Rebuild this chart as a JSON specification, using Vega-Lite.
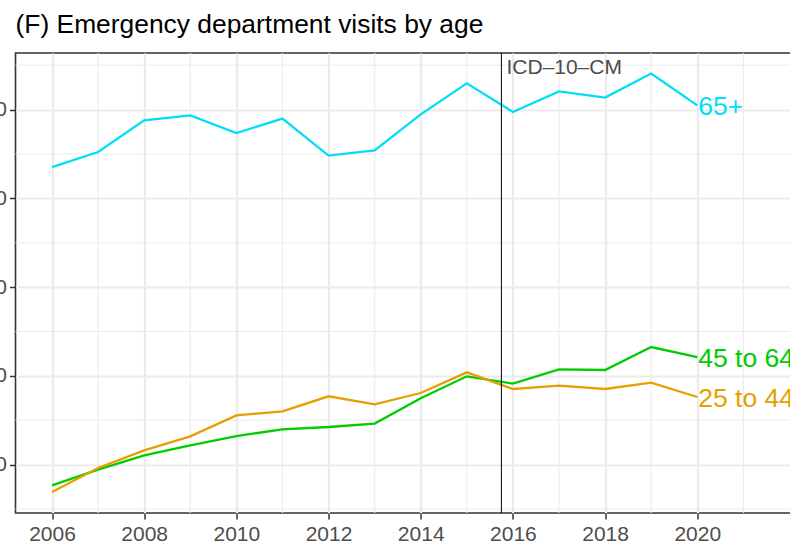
{
  "$schema": "https://vega.github.io/schema/vega-lite/v6.json",
  "autosize": {"type": "none"},
  "width": 797,
  "height": 460,
  "padding": {"left": 15.5, "top": 53, "right": -22.5, "bottom": 31},
  "background": "white",
  "config": {
    "font": "Liberation Sans",
    "view": {"stroke": "#333333", "strokeWidth": 1.6},
    "axis": {
      "domain": false,
      "gridColor": "#EBEBEB",
      "gridWidth": 2.2,
      "tickColor": "#333333",
      "tickWidth": 1.5,
      "tickSize": 6,
      "labelColor": "#4D4D4D",
      "labelFontSize": 21,
      "labelFont": "Liberation Sans",
      "title": null
    }
  },
  "title": {
    "text": "(F) Emergency department visits by age",
    "anchor": "start",
    "frame": "group",
    "fontSize": 26.4,
    "fontWeight": "normal",
    "font": "Liberation Sans",
    "color": "#000000",
    "offset": 14
  },
  "datasets": {
    "visits": [
      {"year": 2006, "group": "65+", "value": 435.3},
      {"year": 2007, "group": "65+", "value": 452.2},
      {"year": 2008, "group": "65+", "value": 487.9},
      {"year": 2009, "group": "65+", "value": 493.6},
      {"year": 2010, "group": "65+", "value": 473.6},
      {"year": 2011, "group": "65+", "value": 489.9},
      {"year": 2012, "group": "65+", "value": 448.2},
      {"year": 2013, "group": "65+", "value": 454.1},
      {"year": 2014, "group": "65+", "value": 494.7},
      {"year": 2015, "group": "65+", "value": 529.6},
      {"year": 2016, "group": "65+", "value": 497.3},
      {"year": 2017, "group": "65+", "value": 520.6},
      {"year": 2018, "group": "65+", "value": 513.5},
      {"year": 2019, "group": "65+", "value": 540.6},
      {"year": 2020, "group": "65+", "value": 504.8},
      {"year": 2006, "group": "45 to 64", "value": 76.7},
      {"year": 2007, "group": "45 to 64", "value": 94.4},
      {"year": 2008, "group": "45 to 64", "value": 110.5},
      {"year": 2009, "group": "45 to 64", "value": 121.7},
      {"year": 2010, "group": "45 to 64", "value": 132.2},
      {"year": 2011, "group": "45 to 64", "value": 139.8},
      {"year": 2012, "group": "45 to 64", "value": 142.4},
      {"year": 2013, "group": "45 to 64", "value": 146.2},
      {"year": 2014, "group": "45 to 64", "value": 174.7},
      {"year": 2015, "group": "45 to 64", "value": 199.5},
      {"year": 2016, "group": "45 to 64", "value": 191.3},
      {"year": 2017, "group": "45 to 64", "value": 207.4},
      {"year": 2018, "group": "45 to 64", "value": 206.6},
      {"year": 2019, "group": "45 to 64", "value": 232.5},
      {"year": 2020, "group": "45 to 64", "value": 221.2},
      {"year": 2006, "group": "25 to 44", "value": 69.1},
      {"year": 2007, "group": "25 to 44", "value": 96.2},
      {"year": 2008, "group": "25 to 44", "value": 116.1},
      {"year": 2009, "group": "25 to 44", "value": 131.9},
      {"year": 2010, "group": "25 to 44", "value": 155.5},
      {"year": 2011, "group": "25 to 44", "value": 160.1},
      {"year": 2012, "group": "25 to 44", "value": 177.0},
      {"year": 2013, "group": "25 to 44", "value": 168.0},
      {"year": 2014, "group": "25 to 44", "value": 180.7},
      {"year": 2015, "group": "25 to 44", "value": 204.0},
      {"year": 2016, "group": "25 to 44", "value": 185.2},
      {"year": 2017, "group": "25 to 44", "value": 189.0},
      {"year": 2018, "group": "25 to 44", "value": 185.2},
      {"year": 2019, "group": "25 to 44", "value": 192.4},
      {"year": 2020, "group": "25 to 44", "value": 176.2}
    ],
    "minorX": [
      {"yr": 2007}, {"yr": 2009}, {"yr": 2011}, {"yr": 2013}, {"yr": 2015},
      {"yr": 2017}, {"yr": 2019}, {"yr": 2021}
    ],
    "minorY": [
      {"v": 50}, {"v": 150}, {"v": 250}, {"v": 350}, {"v": 450}, {"v": 550}
    ],
    "event": [
      {"year": 2015.75, "label": "ICD\u201310\u2013CM", "top": 563.8}
    ]
  },
  "layer": [
    {
      "data": {"name": "minorX"},
      "mark": {"type": "rule", "color": "#EBEBEB", "strokeWidth": 1.1},
      "encoding": {
        "x": {"field": "yr", "type": "quantitative",
              "scale": {"domain": [2005.208, 2022.5], "nice": false, "zero": false},
              "axis": {"values": [2006, 2008, 2010, 2012, 2014, 2016, 2018, 2020], "format": "d", "labelPadding": 4}}
      }
    },
    {
      "data": {"name": "minorY"},
      "mark": {"type": "rule", "color": "#EBEBEB", "strokeWidth": 1.1},
      "encoding": {
        "y": {"field": "v", "type": "quantitative",
              "scale": {"domain": [45.5, 563.8], "nice": false, "zero": false},
              "axis": {"values": [100, 200, 300, 400, 500], "labelPadding": 3}}
      }
    },
    {
      "data": {"name": "visits"},
      "mark": {"type": "line", "strokeWidth": 2.3},
      "encoding": {
        "x": {"field": "year", "type": "quantitative",
              "scale": {"domain": [2005.208, 2022.5], "nice": false, "zero": false},
              "axis": {"values": [2006, 2008, 2010, 2012, 2014, 2016, 2018, 2020], "format": "d", "labelPadding": 4}},
        "y": {"field": "value", "type": "quantitative",
              "scale": {"domain": [45.5, 563.8], "nice": false, "zero": false},
              "axis": {"values": [100, 200, 300, 400, 500], "labelPadding": 3}},
        "color": {"field": "group", "type": "nominal", "legend": null,
                  "scale": {"domain": ["65+", "45 to 64", "25 to 44"], "range": ["#00DEF7", "#00CC00", "#E69F00"]}}
      }
    },
    {
      "data": {"name": "event"},
      "mark": {"type": "rule", "color": "#000000", "strokeWidth": 1},
      "encoding": {
        "x": {"field": "year", "type": "quantitative"}
      }
    },
    {
      "data": {"name": "event"},
      "mark": {"type": "text", "align": "left", "baseline": "top", "dx": 5, "dy": 4, "fontSize": 21, "color": "#4D4D4D"},
      "encoding": {
        "x": {"field": "year", "type": "quantitative"},
        "y": {"field": "top", "type": "quantitative"},
        "text": {"field": "label"}
      }
    },
    {
      "data": {"name": "visits"},
      "transform": [{"filter": "datum.year == 2020"}],
      "mark": {"type": "text", "align": "left", "baseline": "middle", "dx": 1, "dy": 2, "fontSize": 26.5},
      "encoding": {
        "x": {"field": "year", "type": "quantitative"},
        "y": {"field": "value", "type": "quantitative"},
        "text": {"field": "group"},
        "color": {"field": "group", "type": "nominal", "legend": null}
      }
    }
  ]
}
